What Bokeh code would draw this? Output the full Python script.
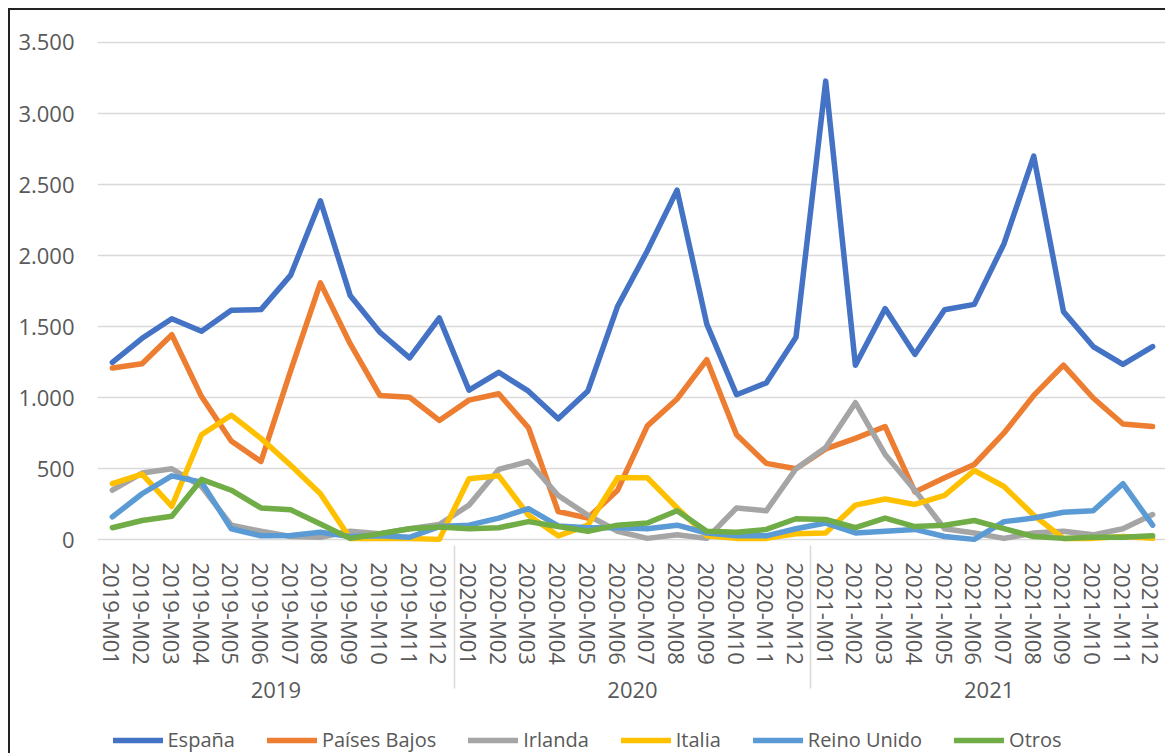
from bokeh.plotting import figure
from bokeh.models import FactorRange, Range1d, FixedTicker, Legend, LegendItem
from bokeh.layouts import column
from bokeh.embed import file_html
from bokeh.resources import INLINE

years = ["2019", "2020", "2021"]
months = ["M01", "M02", "M03", "M04", "M05", "M06",
          "M07", "M08", "M09", "M10", "M11", "M12"]

espana = [1249, 1418, 1556, 1468, 1616, 1620, 1863, 2386, 1720, 1461, 1280, 1561,
          1053, 1179, 1046, 852, 1048, 1644, 2034, 2461, 1518, 1021, 1104, 1425,
          3228, 1229, 1627, 1305, 1619, 1657, 2084, 2700, 1606, 1360, 1234, 1360]
paises_bajos = [1209, 1239, 1443, 1008, 696, 551, 1190, 1808, 1380, 1016, 1003, 840,
                983, 1028, 789, 199, 153, 349, 802, 991, 1267, 739, 538, 500,
                640, 714, 797, 337, 437, 530, 752, 1016, 1229, 998, 815, 797]
irlanda = [349, 470, 500, 375, 103, 60, 23, 18, 60, 43, 78, 108,
           244, 495, 551, 312, 173, 60, 10, 35, 10, 224, 204, 500,
           650, 965, 601, 349, 78, 48, 10, 48, 60, 35, 78, 178]
italia = [395, 463, 236, 739, 877, 714, 525, 324, 10, 10, 10, 3,
          430, 450, 173, 28, 103, 437, 437, 224, 28, 10, 10, 43,
          48, 244, 287, 249, 312, 488, 375, 173, 10, 10, 23, 10]
reino_unido = [161, 324, 450, 405, 78, 28, 30, 53, 23, 28, 18, 93,
               103, 153, 219, 98, 85, 85, 78, 103, 48, 28, 28, 78,
               118, 48, 60, 73, 23, 3, 128, 153, 194, 204, 395, 103]
otros = [85, 136, 166, 425, 349, 224, 211, 111, 10, 43, 78, 90,
         78, 85, 128, 93, 60, 103, 118, 204, 60, 53, 73, 148,
         143, 85, 153, 93, 103, 136, 78, 23, 10, 18, 18, 28]

series_names = ["España", "Países Bajos", "Irlanda", "Italia", "Reino Unido", "Otros"]
series_values = [espana, paises_bajos, irlanda, italia, reino_unido, otros]
series_colors = ["#4472C4", "#ED7D31", "#A5A5A5", "#FFC000", "#5B9BD5", "#70AD47"]

y_ticks = [0, 500, 1000, 1500, 2000, 2500, 3000, 3500]
y_tick_labels = ["0", "500", "1.000", "1.500", "2.000", "2.500", "3.000", "3.500"]

FONT = "Open Sans"
TXT = "#595959"
GRID = "#D9D9D9"
BORDER = "2px solid #222222"

factors = [(y, f"{y}-{m}") for y in years for m in months]

# ---- main chart ----
p = figure(width=1157, height=717,
           x_range=FactorRange(*factors, factor_padding=0, group_padding=0,
                               subgroup_padding=0, range_padding=0),
           y_range=Range1d(-19, 3697),
           output_backend="svg", toolbar_location=None,
           min_border_left=87, min_border_right=0, min_border_top=4,
           min_border_bottom=185)
p.margin = (8, 0, 0, 8)
p.styles = {"border-left": BORDER, "border-top": BORDER}
p.outline_line_color = None
p.background_fill_color = "white"
p.border_fill_color = "white"

p.yaxis.ticker = FixedTicker(ticks=y_ticks)
p.yaxis.major_label_overrides = {t: l for t, l in zip(y_ticks, y_tick_labels)}
p.yaxis.axis_line_color = None
p.yaxis.major_tick_line_color = None
p.yaxis.minor_tick_line_color = None
p.yaxis.major_label_standoff = 17
p.yaxis.major_label_text_font = FONT
p.yaxis.major_label_text_font_size = "22px"
p.yaxis.major_label_text_color = TXT

p.ygrid.ticker = FixedTicker(ticks=y_ticks)
p.ygrid.grid_line_color = GRID
p.ygrid.grid_line_width = 1.5
p.xgrid.grid_line_color = None

xa = p.xaxis[0]
xa.axis_line_color = None
xa.major_tick_line_color = None
xa.minor_tick_line_color = None
xa.major_label_orientation = "vertical"
xa.major_label_standoff = 14
xa.major_label_text_font = FONT
xa.major_label_text_font_size = "22px"
xa.major_label_text_color = TXT
xa.group_label_orientation = "horizontal"
xa.group_text_font = FONT
xa.group_text_font_size = "22px"
xa.group_text_color = TXT
xa.group_text_font_style = "normal"
xa.separator_line_color = GRID
xa.separator_line_width = 1.5

for vals, col in zip(series_values, series_colors):
    p.line(x=factors, y=vals, line_color=col, line_width=5.5,
           line_join="round", line_cap="round")

# ---- legend strip below the chart ----
lg = figure(width=1157, height=28, x_range=Range1d(0, 1), y_range=Range1d(0, 1),
            x_axis_type=None, y_axis_type=None,
            output_backend="svg", toolbar_location=None,
            min_border_left=0, min_border_right=0, min_border_top=0,
            min_border_bottom=0)
lg.margin = (0, 0, 0, 8)
lg.styles = {"border-left": BORDER}
lg.outline_line_color = None
lg.background_fill_color = "white"
lg.border_fill_color = "white"

items = []
for name, col in zip(series_names, series_colors):
    # legend-only renderer: one undefined point, so nothing is drawn in the strip
    r = lg.line(x=[float("nan")], y=[float("nan")], line_color=col, line_width=5.5,
                line_join="round", line_cap="round")
    items.append(LegendItem(label=name, renderers=[r]))

legend = Legend(items=items, orientation="horizontal", location=(15.5, 0),
                border_line_color=None, background_fill_alpha=0,
                padding=0, margin=0, spacing=32, label_standoff=5,
                glyph_width=50, glyph_height=20, label_height=20,
                label_text_font=FONT, label_text_font_size="20px",
                label_text_color=TXT, inactive_fill_alpha=0)
lg.add_layout(legend)

layout = column(p, lg, spacing=0)
open("out.html", "w").write(file_html(layout, INLINE))
